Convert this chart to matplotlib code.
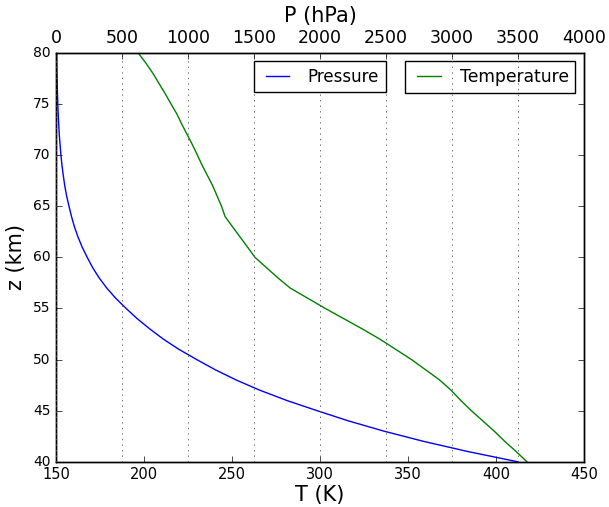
import matplotlib
matplotlib.use("Agg")
import matplotlib.pyplot as plt

# altitude (km)
z_temp = [40, 41, 42, 43, 44, 45, 46, 47, 48, 49, 50, 51, 52, 53, 54, 55, 56, 57, 58, 59,
          60, 61, 62, 63, 64, 65, 66, 67, 68, 69, 70, 71, 72, 73, 74, 75, 76, 77, 78, 79, 80]
temp = [417.6, 411.5, 405.0, 399.0, 392.5, 386.0, 380.0, 374.5, 368.0, 360.0, 352.0, 343.0,
        334.0, 324.0, 313.5, 303.0, 293.0, 283.0, 276.0, 269.5, 263.0, 258.8, 254.5, 250.2,
        246.0, 244.0, 241.5, 239.0, 236.0, 233.0, 230.3, 227.5, 224.5, 221.5, 218.7, 215.3,
        212.0, 208.5, 205.0, 201.0, 196.6]

z_pres = [40, 41, 42, 43, 44, 45, 46, 47, 48, 49, 50, 51, 52, 53, 54, 55, 56, 57, 58, 59,
          60, 61, 62, 63, 64, 65, 66, 67, 68, 69, 70, 72, 74, 76, 78, 80]
pres = [3501, 3124, 2786, 2485, 2217, 1979, 1749, 1545, 1366, 1207, 1066, 931, 813, 710,
        615, 531, 452, 384, 326, 277, 236, 198, 166, 139, 117, 98, 80, 66, 55, 45, 37,
        24.5, 16.3, 10.8, 7.2, 4.8]

plt.style.use("classic")
plt.rcParams["figure.facecolor"] = "white"
plt.rcParams["savefig.facecolor"] = "white"

fig = plt.figure(figsize=(6.09, 5.07), dpi=100)
ax = fig.add_axes([0.092, 0.089, 0.867, 0.807])
ax2 = ax.twiny()

ax.plot(temp, z_temp, color="g", lw=1.0, label="Temperature")
ax2.plot(pres, z_pres, color="b", lw=1.0, label="Pressure")

ax.set_xlim(150, 450)
ax.set_ylim(40, 80)
ax2.set_xlim(0, 4000)
ax2.xaxis.grid(True, linestyle=":", color="0.35", lw=0.6)

ax.set_xlabel("T (K)", fontsize=15, labelpad=2)
ax.set_ylabel("z (km)", fontsize=15)
ax2.set_xlabel("P (hPa)", fontsize=15)
ax.tick_params(axis="x", labelsize=10.5)
ax.tick_params(axis="y", labelsize=10)
ax2.tick_params(axis="x", labelsize=12.5)

ax2.legend(loc="upper center", fontsize=12)
ax.legend(loc="upper right", fontsize=12.3)

fig.savefig("out.png", dpi=100)
